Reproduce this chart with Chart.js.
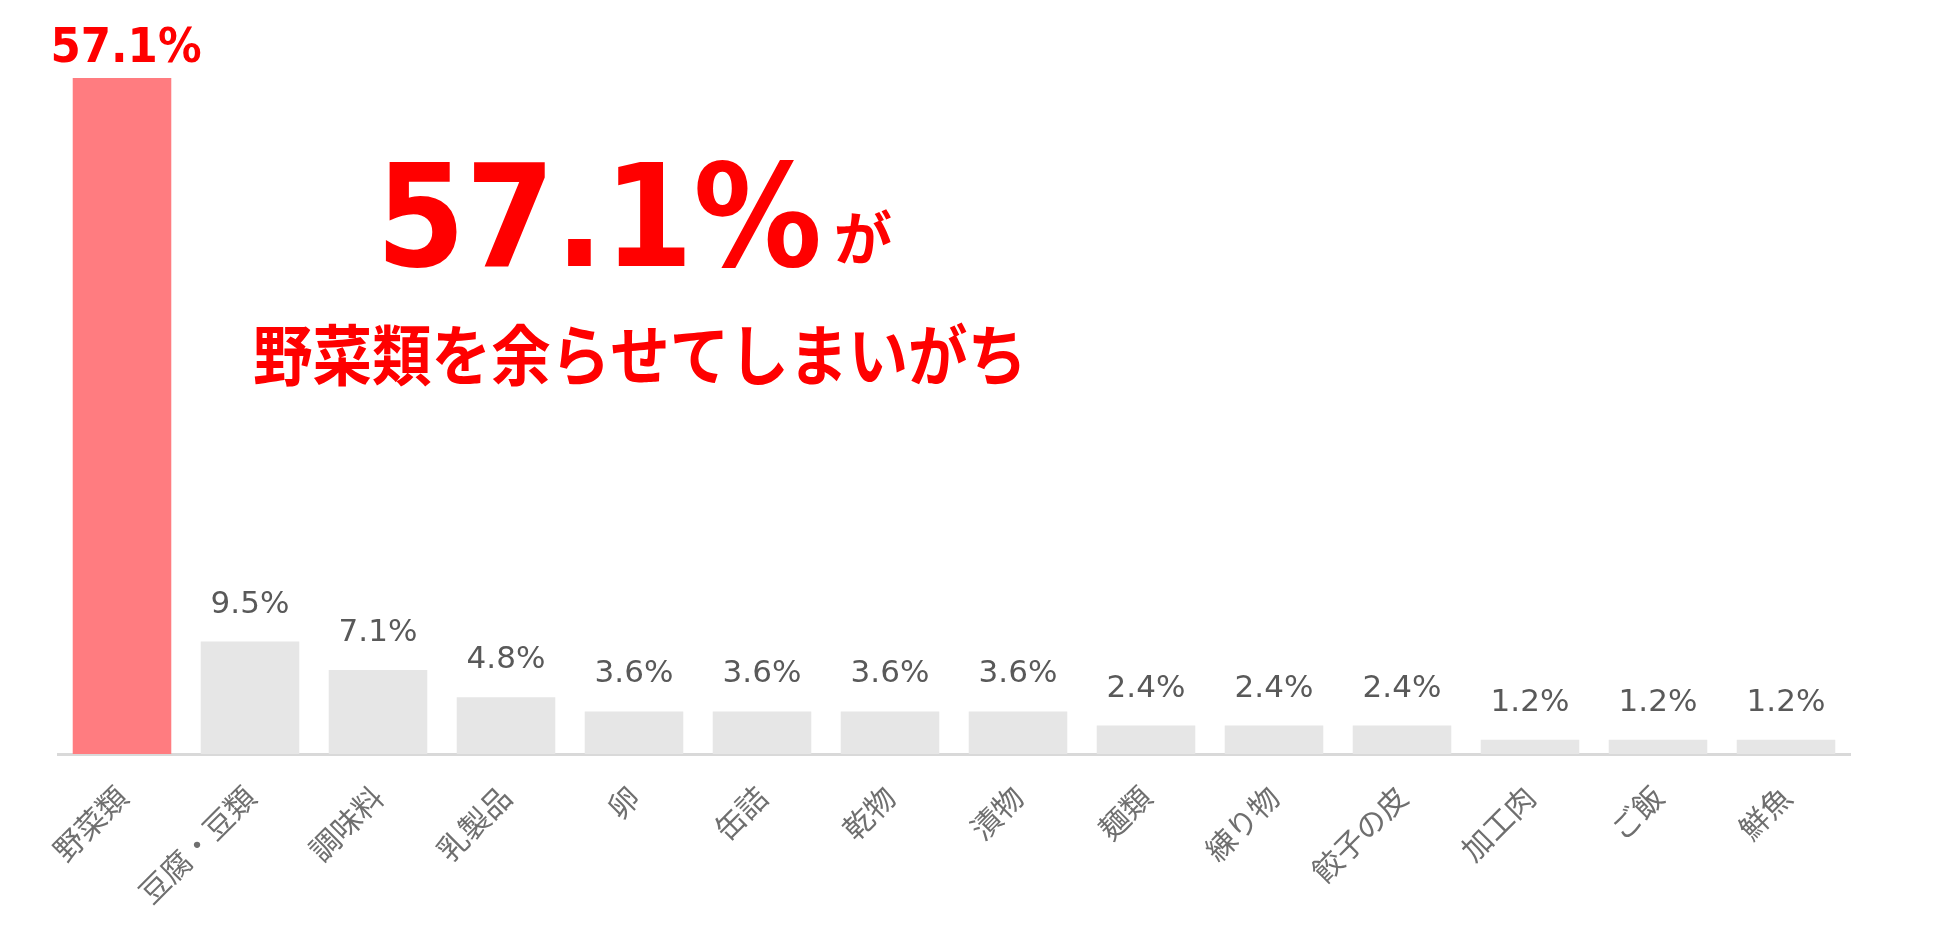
<!DOCTYPE html>
<html lang="ja">
<head>
    <meta charset="UTF-8">
    <title>余らせがちな食材</title>
    <style>
        body { margin: 0; background: #fff; }
        #wrap { width: 1950px; height: 929px; }
    </style>
</head>
<body>
    <div id="wrap">
        <canvas id="myChart" width="1950" height="929"></canvas>
    </div>

    <script src="https://cdn.jsdelivr.net/npm/chart.js"></script>

    <script>
        // カテゴリと割合（%）
        const categories = ['野菜類', '豆腐・豆類', '調味料', '乳製品', '卵', '缶詰', '乾物', '漬物', '麺類', '練り物', '餃子の皮', '加工肉', 'ご飯', '鮮魚'];
        const values = [57.1, 9.5, 7.1, 4.8, 3.6, 3.6, 3.6, 3.6, 2.4, 2.4, 2.4, 1.2, 1.2, 1.2];
        const headline = '57.1%';
        const headlineSuffix = 'が';
        const subline = '野菜類を余らせてしまいがち';

        const topIndex = values.indexOf(Math.max(...values));
        const barColors = values.map((v, i) => i === topIndex ? '#ff7c80' : '#e6e6e6');

        // 棒の上に値を描く
        const valueLabels = {
            id: 'valueLabels',
            afterDatasetsDraw(chart) {
                const c = chart.ctx;
                const meta = chart.getDatasetMeta(0);
                c.save();
                c.textAlign = 'center';
                c.textBaseline = 'alphabetic';
                meta.data.forEach((bar, i) => {
                    const txt = values[i].toFixed(1) + '%';
                    if (i === topIndex) {
                        c.fillStyle = '#ff0000';
                        c.font = 'bold 48px "DejaVu Sans"';
                        c.fillText(txt, bar.x + 4, bar.y - 16, 151);
                    } else {
                        c.fillStyle = '#595959';
                        c.font = '31px "DejaVu Sans"';
                        c.fillText(txt, bar.x, bar.y - 29);
                    }
                });
                c.restore();
            }
        };

        // 見出しテキスト
        const headlineText = {
            id: 'headlineText',
            afterDraw(chart) {
                const c = chart.ctx;
                c.save();
                c.fillStyle = '#ff0000';
                c.textAlign = 'left';
                c.textBaseline = 'alphabetic';
                c.font = 'bold 142px "DejaVu Sans"';
                c.fillText(headline, 376, 266, 446);
                c.font = 'bold 58px "Noto Sans CJK JP"';
                c.fillText(headlineSuffix, 834, 260);
                c.font = 'bold 66px "Noto Sans CJK JP"';
                c.fillText(subline, 253, 380, 774);
                c.restore();
            }
        };

        new Chart(document.getElementById('myChart'), {
            type: 'bar',
            data: {
                labels: categories,
                datasets: [{
                    data: values,
                    backgroundColor: barColors,
                    borderWidth: 0,
                    barPercentage: 0.77,
                    categoryPercentage: 1.0
                }]
            },
            options: {
                responsive: false,
                animation: false,
                layout: { padding: { left: 58, right: 100, top: 78, bottom: 0 } },
                plugins: {
                    legend: { display: false },
                    tooltip: { enabled: false }
                },
                scales: {
                    x: {
                        grid: { display: false },
                        border: { display: true, color: '#d9d9d9', width: 3 },
                        ticks: {
                            autoSkip: false,
                            maxRotation: 45,
                            minRotation: 45,
                            padding: 17,
                            color: '#6f6f6f',
                            font: { family: '"Noto Sans CJK JP"', size: 30 }
                        },
                        afterFit(scale) { scale.height = 175; }
                    },
                    y: {
                        display: false,
                        min: 0,
                        max: 57.1
                    }
                }
            },
            plugins: [valueLabels, headlineText]
        });
    </script>
</body>
</html>
